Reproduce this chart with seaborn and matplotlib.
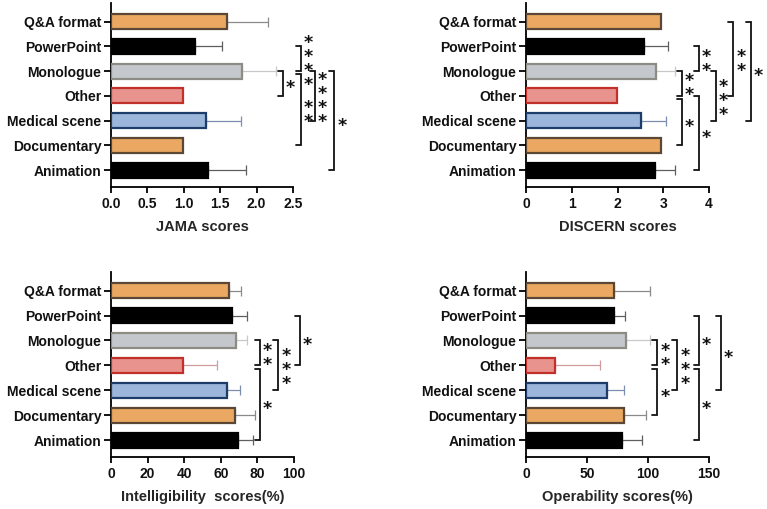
import matplotlib
matplotlib.use("Agg")
import matplotlib.pyplot as plt
import seaborn as sns
import pandas as pd
import numpy as np

categories = ["Q&A format", "PowerPoint", "Monologue", "Other",
              "Medical scene", "Documentary", "Animation"]

jama_mean = [1.59, 1.16, 1.80, 0.99, 1.31, 0.99, 1.33]
jama_sd = [0.57, 0.37, 0.47, 0.0, 0.47, 0.0, 0.53]
discern_mean = [2.96, 2.58, 2.85, 1.99, 2.52, 2.96, 2.83]
discern_sd = [0.0, 0.53, 0.40, 0.0, 0.53, 0.0, 0.42]
intel_mean = [64.7, 66.3, 68.3, 39.2, 63.4, 67.9, 69.4]
intel_sd = [6.2, 7.8, 6.2, 18.9, 7.1, 11.0, 8.4]
oper_mean = [72.5, 72.0, 81.6, 24.1, 66.5, 80.2, 78.8]
oper_sd = [28.8, 8.8, 19.7, 36.4, 13.7, 17.8, 16.5]

# significance brackets: (category a, category b, label, bracket x in data units)
jama_sig = [("PowerPoint", "Monologue", "****", 2.61),
            ("Monologue", "Other", "*", 2.36),
            ("Monologue", "Documentary", "**", 2.61),
            ("Monologue", "Medical scene", "****", 2.80),
            ("Monologue", "Animation", "*", 3.07)]
discern_sig = [("PowerPoint", "Monologue", "**", 3.78),
               ("Monologue", "Other", "**", 3.40),
               ("Other", "Documentary", "*", 3.40),
               ("Other", "Animation", "*", 3.78),
               ("Monologue", "Medical scene", "***", 4.15),
               ("Q&A format", "Other", "**", 4.53),
               ("Q&A format", "Medical scene", "*", 4.91)]
intel_sig = [("Monologue", "Other", "**", 81.4),
             ("Other", "Animation", "*", 81.4),
             ("Monologue", "Medical scene", "***", 91.4),
             ("PowerPoint", "Other", "*", 103.3)]
oper_sig = [("Monologue", "Other", "**", 107.6),
            ("Other", "Documentary", "*", 107.6),
            ("Monologue", "Medical scene", "***", 124.0),
            ("PowerPoint", "Other", "*", 141.8),
            ("Other", "Animation", "*", 141.8),
            ("PowerPoint", "Medical scene", "*", 160.0)]

fill_colors = ["#EAA862", "#000000", "#C4C8CC", "#E8938E", "#9BB6DA", "#EAA862", "#000000"]
edge_colors = ["#5A4834", "#000000", "#8C8C84", "#C2302C", "#1E3C6A", "#5A4834", "#000000"]
err_colors = ["#8A8A8A", "#5E5E5E", "#C8C8C8", "#D29C9C", "#7D8FB0", "#8A8A8A", "#5E5E5E"]

sns.set_theme(style="ticks")
plt.rcParams["font.family"] = ["Liberation Sans", "DejaVu Sans"]
plt.rcParams["font.weight"] = "bold"

W, H = 767, 509
fig = plt.figure(figsize=(W / 100, H / 100), dpi=100)

panels = [
    (jama_mean, jama_sd, jama_sig, "JAMA scores", (0, 2.5), [0, 0.5, 1.0, 1.5, 2.0, 2.5], True, (111, 3, 293, 187)),
    (discern_mean, discern_sd, discern_sig, "DISCERN scores", (0, 4), [0, 1, 2, 3, 4], False, (526, 3, 709, 187)),
    (intel_mean, intel_sd, intel_sig, "Intelligibility  scores(%)", (0, 100), [0, 20, 40, 60, 80, 100], False, (111, 272, 294, 457)),
    (oper_mean, oper_sd, oper_sig, "Operability scores(%)", (0, 150), [0, 50, 100, 150], False, (526, 272, 709, 457)),
]

for mean, sd, sig, xlabel, xlim, xticks, decimal, (l, t, r, b) in panels:
    ax = fig.add_axes([l / W, 1 - b / H, (r - l) / W, (b - t) / H])
    df = pd.DataFrame({"category": categories, "value": mean})
    sns.barplot(data=df, x="value", y="category", hue="category", order=categories,
                hue_order=categories, palette=fill_colors, saturation=1, orient="h",
                width=0.6, legend=False, ax=ax, errorbar=None, zorder=3)
    for patch, ec in zip(ax.patches, edge_colors):
        patch.set_edgecolor(ec)
        patch.set_linewidth(1.6)
    ypos = np.arange(len(categories))
    for i in range(len(categories)):
        if sd[i] > 0:
            ax.errorbar(mean[i], ypos[i], xerr=[[0], [sd[i]]], fmt="none",
                        ecolor=err_colors[i], elinewidth=0.9, capsize=3.5,
                        capthick=0.9, zorder=2)
    ax.set_xlim(*xlim)
    ax.set_ylim(6.68, -0.75)
    ax.set_xticks(xticks)
    ax.set_xticklabels([f"{v:.1f}" if decimal else str(int(v)) for v in xticks])
    ax.set_xlabel(xlabel, fontsize=10.5, fontweight="bold", labelpad=7)
    ax.set_ylabel("")
    sns.despine(ax=ax)
    for s in ["left", "bottom"]:
        ax.spines[s].set_linewidth(1.3)
        ax.spines[s].set_color("#000000")
    ax.tick_params(axis="both", width=1.3, color="#000000", labelsize=10)
    ax.tick_params(axis="x", length=4, pad=3)
    ax.tick_params(axis="y", length=5, pad=2)
    for lab in ax.get_xticklabels() + ax.get_yticklabels():
        lab.set_fontweight("bold")
        lab.set_color("#111111")

    # brackets
    px_per_unit = (r - l) / (xlim[1] - xlim[0])
    tick_len = 5 / px_per_unit
    star_off = 7.5 / px_per_unit
    ends = {}
    for a, bb, lab, x in sig:
        ends.setdefault(x, []).append(categories.index(bb))
    for a, bb, lab, x in sig:
        ya = categories.index(a)
        yb = categories.index(bb)
        y0 = ya + (0.13 if ya in ends.get(x, []) else 0.0)
        y1 = yb
        ax.plot([x - tick_len, x, x, x - tick_len], [y0, y0, y1, y1],
                color="#111111", lw=1.3, clip_on=False, solid_joinstyle="miter")
        mid = (y0 + y1) / 2
        ax.text(x + star_off, mid + 0.2, "\n".join(lab), ha="center", va="center",
                fontsize=12.5, fontweight="bold", color="#111111",
                family="DejaVu Sans", linespacing=0.72, clip_on=False)

fig.savefig("out.png", dpi=100, facecolor="white")
